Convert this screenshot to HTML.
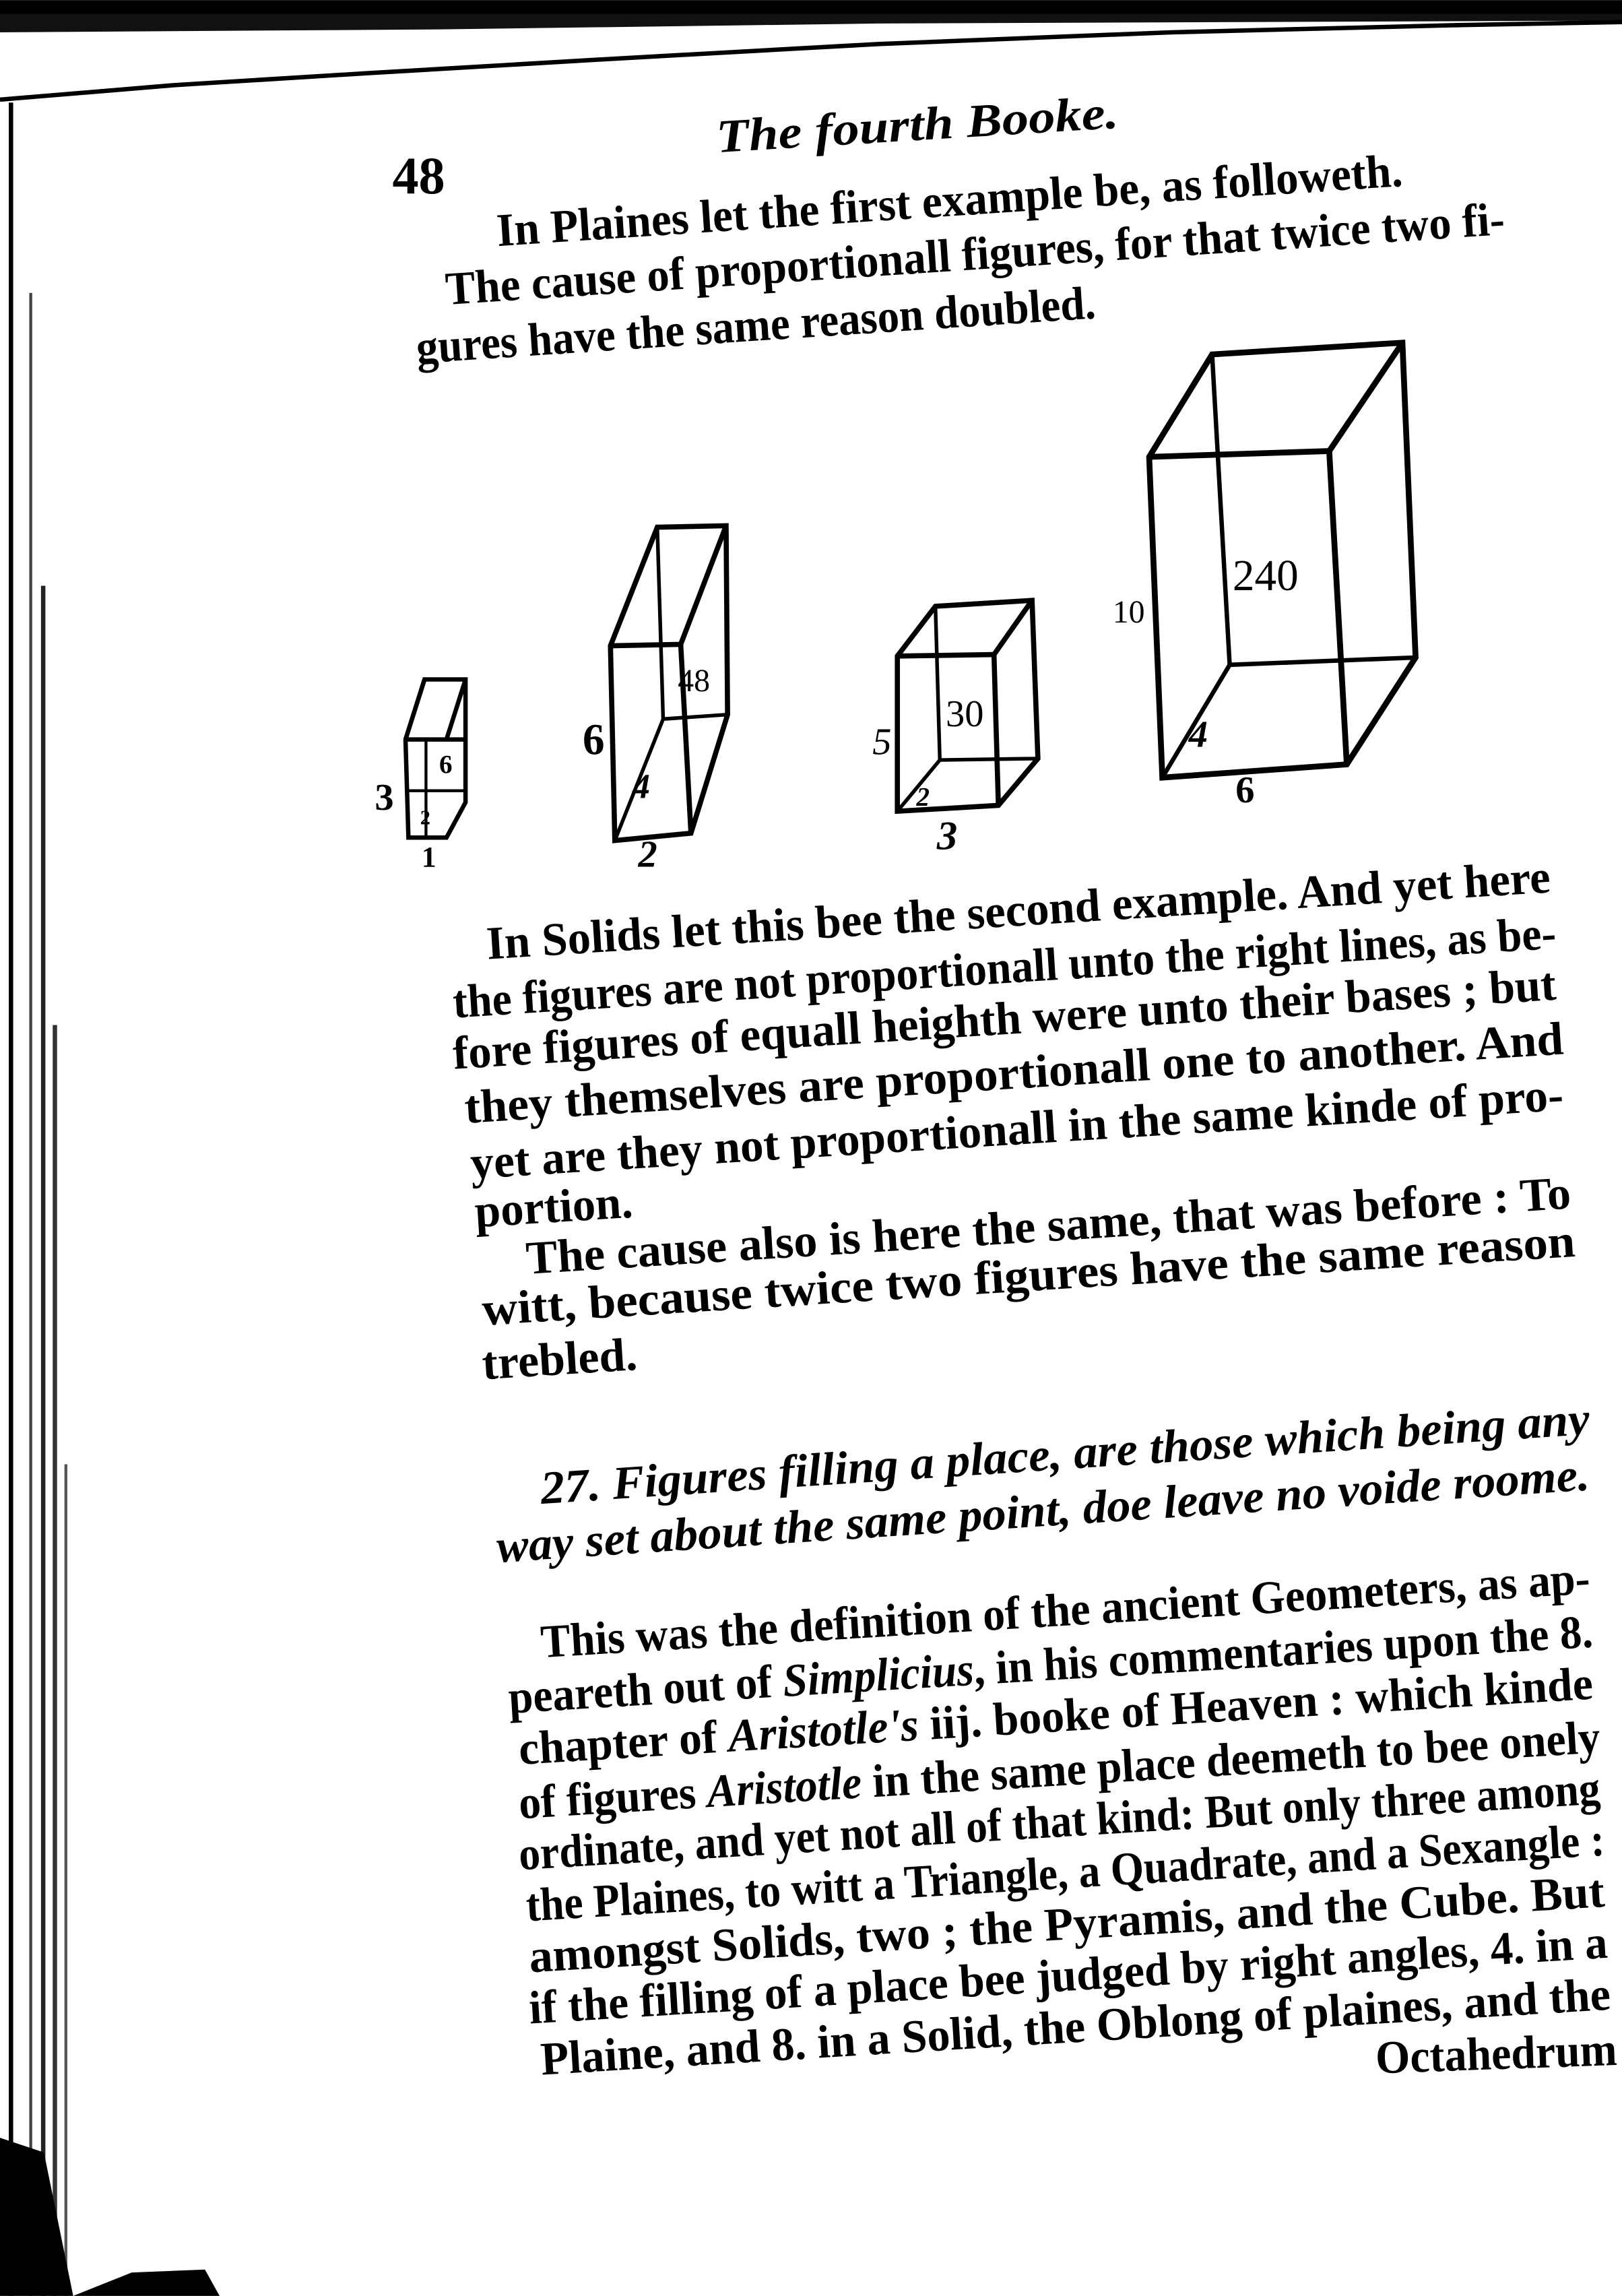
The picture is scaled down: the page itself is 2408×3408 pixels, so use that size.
<!DOCTYPE html>
<html><head><meta charset="utf-8"><style>
html,body{margin:0;padding:0;background:#fff;}
svg{display:block;}
text{font-family:"Liberation Serif",serif;fill:#000;}
.t{font-size:32px;font-weight:bold;}
.i{font-size:32px;font-weight:bold;font-style:italic;}
</style></head><body>
<svg width="2408" height="3408" viewBox="0 0 1108 1568" xmlns="http://www.w3.org/2000/svg">
<rect width="1108" height="1568" fill="#fff"/>
<!-- top dark edge -->
<rect x="0" y="0" width="1108" height="10" fill="#000"/>
<polygon points="0,10 1108,10 1108,14 600,16 300,20 0,22" fill="#111"/>
<polyline points="0,68 120,58 250,50 420,40 600,30 800,22 1000,17 1108,15" fill="none" stroke="#000" stroke-width="3"/>
<!-- left binding lines -->
<rect x="6" y="70" width="3" height="1498" fill="#000"/>
<rect x="20" y="200" width="2" height="1368" fill="#444"/>
<rect x="28" y="400" width="3" height="1168" fill="#222"/>
<rect x="36" y="700" width="3" height="868" fill="#333"/>
<rect x="44" y="1000" width="2" height="568" fill="#555"/>
<polygon points="0,1460 30,1470 50,1568 0,1568" fill="#000"/>
<polygon points="50,1568 90,1552 140,1550 150,1568" fill="#000"/>

<text x="490" y="104" font-size="32" font-style="italic" font-weight="bold" transform="rotate(-3.5 490 104)" textLength="275" lengthAdjust="spacingAndGlyphs">The fourth Booke.</text>
<text x="268" y="132" font-size="36" font-weight="bold">48</text>

<g transform="rotate(-3.8 340 168)"><text class="t" x="340" y="168" textLength="620" lengthAdjust="spacingAndGlyphs">In Plaines let the first example be, as followeth.</text></g>
<g transform="rotate(-3.8 305 208)"><text class="t" x="305" y="208" textLength="725" lengthAdjust="spacingAndGlyphs">The cause of proportionall figures, for that twice two fi-</text></g>
<g transform="rotate(-3.8 285 248)"><text class="t" x="285" y="248" textLength="465" lengthAdjust="spacingAndGlyphs">gures have the same reason doubled.</text></g>

<!-- Box 1 -->
<g fill="none" stroke="#000" stroke-width="3">
<polygon points="290,464 318,464 318,548 305,572 279,572 277,505"/>
<line x1="290" y1="464" x2="277" y2="505"/>
<line x1="318" y1="464" x2="305" y2="505"/>
<line x1="277" y1="505" x2="318" y2="505"/>
<line x1="291" y1="505" x2="291" y2="572" stroke-width="2"/>
<line x1="278" y1="540" x2="318" y2="540" stroke-width="2"/>
</g>
<text x="256" y="553" font-size="26" font-weight="bold">3</text>
<text x="300" y="528" font-size="18" font-weight="bold">6</text>
<text x="287" y="563" font-size="14" font-weight="bold">2</text>
<text x="288" y="592" font-size="20" font-weight="bold">1</text>

<!-- Box 2 -->
<g fill="none" stroke="#000" stroke-width="3.5">
<polygon points="449,360 496,359 497,488 472,569 420,574 417,441"/>
<line x1="417" y1="441" x2="465" y2="440"/>
<line x1="465" y1="440" x2="496" y2="359"/>
<line x1="465" y1="440" x2="472" y2="569"/>
<line x1="449" y1="360" x2="453" y2="491" stroke-width="2.5"/>
<line x1="453" y1="491" x2="497" y2="488" stroke-width="2.5"/>
<line x1="453" y1="491" x2="420" y2="574" stroke-width="2.5"/>
</g>
<text x="398" y="515" font-size="30" font-weight="bold">6</text>
<text x="463" y="472" font-size="22">48</text>
<text x="432" y="545" font-size="24" font-style="italic" font-weight="bold">4</text>
<text x="436" y="592" font-size="26" font-style="italic" font-weight="bold">2</text>

<!-- Box 3 -->
<g fill="none" stroke="#000" stroke-width="3.5">
<polygon points="639,414 705,410 709,518 682,550 613,554 613,448"/>
<line x1="613" y1="448" x2="679" y2="447"/>
<line x1="679" y1="447" x2="705" y2="410"/>
<line x1="679" y1="447" x2="682" y2="550"/>
<line x1="639" y1="414" x2="642" y2="519" stroke-width="2.5"/>
<line x1="642" y1="519" x2="709" y2="518" stroke-width="2.5"/>
<line x1="642" y1="519" x2="613" y2="554" stroke-width="2.5"/>
</g>
<text x="646" y="496" font-size="26">30</text>
<text x="596" y="515" font-size="26" font-style="italic">5</text>
<text x="626" y="550" font-size="18" font-style="italic" font-weight="bold">2</text>
<text x="640" y="580" font-size="28" font-style="italic" font-weight="bold">3</text>

<!-- Box 4 -->
<g fill="none" stroke="#000" stroke-width="4">
<polygon points="828,242 958,234 967,449 920,522 794,531 785,312"/>
<line x1="785" y1="312" x2="908" y2="308"/>
<line x1="908" y1="308" x2="958" y2="234"/>
<line x1="908" y1="308" x2="920" y2="522"/>
<line x1="828" y1="242" x2="840" y2="454" stroke-width="3"/>
<line x1="840" y1="454" x2="967" y2="449" stroke-width="3"/>
<line x1="840" y1="454" x2="794" y2="531" stroke-width="3"/>
</g>
<text x="842" y="403" font-size="30">240</text>
<text x="760" y="425" font-size="22">10</text>
<text x="812" y="510" font-size="26" font-style="italic" font-weight="bold">4</text>
<text x="844" y="548" font-size="26" font-weight="bold">6</text>

<!-- middle text -->
<g transform="rotate(-3.6 333 655)"><text class="t" x="333" y="655" textLength="728" lengthAdjust="spacingAndGlyphs">In Solids let this bee the second example. And yet here</text></g>
<g transform="rotate(-3.6 310 695)"><text class="t" x="310" y="695" textLength="755" lengthAdjust="spacingAndGlyphs">the figures are not proportionall unto the right lines, as be-</text></g>
<g transform="rotate(-3.6 310 730)"><text class="t" x="310" y="730" textLength="755" lengthAdjust="spacingAndGlyphs">fore figures of equall heighth were unto their bases ; but</text></g>
<g transform="rotate(-3.6 318 767)"><text class="t" x="318" y="767" textLength="752" lengthAdjust="spacingAndGlyphs">they themselves are proportionall one to another. And</text></g>
<g transform="rotate(-3.6 322 805)"><text class="t" x="322" y="805" textLength="748" lengthAdjust="spacingAndGlyphs">yet are they not proportionall in the same kinde of pro-</text></g>
<g transform="rotate(-3.6 325 838)"><text class="t" x="325" y="838" textLength="108" lengthAdjust="spacingAndGlyphs">portion.</text></g>
<g transform="rotate(-3.6 360 870)"><text class="t" x="360" y="870" textLength="715" lengthAdjust="spacingAndGlyphs">The cause also is here the same, that was before : To</text></g>
<g transform="rotate(-3.6 330 905)"><text class="t" x="330" y="905" textLength="748" lengthAdjust="spacingAndGlyphs">witt, because twice two figures have the same reason</text></g>
<g transform="rotate(-3.6 330 942)"><text class="t" x="330" y="942" textLength="106" lengthAdjust="spacingAndGlyphs">trebled.</text></g>

<g transform="rotate(-3.8 370 1027)"><text class="i" x="370" y="1027" textLength="718" lengthAdjust="spacingAndGlyphs">27. Figures filling a place, are those which being any</text></g>
<g transform="rotate(-3.8 340 1067)"><text class="i" x="340" y="1067" textLength="748" lengthAdjust="spacingAndGlyphs">way set about the same point, doe leave no voide roome.</text></g>

<g transform="rotate(-3.5 370 1132)"><text class="t" x="370" y="1132" textLength="718" lengthAdjust="spacingAndGlyphs">This was the definition of the ancient Geometers, as ap-</text></g>
<g transform="rotate(-3.5 348 1170)"><text class="t" x="348" y="1170" textLength="742" lengthAdjust="spacingAndGlyphs">peareth out of <tspan font-style="italic">Simplicius</tspan>, in his commentaries upon the 8.</text></g>
<g transform="rotate(-3.5 355 1205)"><text class="t" x="355" y="1205" textLength="735" lengthAdjust="spacingAndGlyphs">chapter of <tspan font-style="italic">Aristotle's</tspan> iij. booke of Heaven : which kinde</text></g>
<g transform="rotate(-3.5 355 1242)"><text class="t" x="355" y="1242" textLength="740" lengthAdjust="spacingAndGlyphs">of figures <tspan font-style="italic">Aristotle</tspan> in the same place deemeth to bee onely</text></g>
<g transform="rotate(-3.5 355 1277)"><text class="t" x="355" y="1277" textLength="740" lengthAdjust="spacingAndGlyphs">ordinate, and yet not all of that kind: But only three among</text></g>
<g transform="rotate(-3.5 360 1312)"><text class="t" x="360" y="1312" textLength="738" lengthAdjust="spacingAndGlyphs">the Plaines, to witt a Triangle, a Quadrate, and a Sexangle :</text></g>
<g transform="rotate(-3.5 362 1347)"><text class="t" x="362" y="1347" textLength="736" lengthAdjust="spacingAndGlyphs">amongst Solids, two ; the Pyramis, and the Cube. But</text></g>
<g transform="rotate(-3.5 362 1382)"><text class="t" x="362" y="1382" textLength="738" lengthAdjust="spacingAndGlyphs">if the filling of a place bee judged by right angles, 4. in a</text></g>
<g transform="rotate(-3.5 370 1417)"><text class="t" x="370" y="1417" textLength="732" lengthAdjust="spacingAndGlyphs">Plaine, and 8. in a Solid, the Oblong of plaines, and the</text></g>
<g transform="rotate(-2 940 1416)"><text class="t" x="940" y="1416" textLength="165" lengthAdjust="spacingAndGlyphs">Octahedrum</text></g>
</svg>
</body></html>
